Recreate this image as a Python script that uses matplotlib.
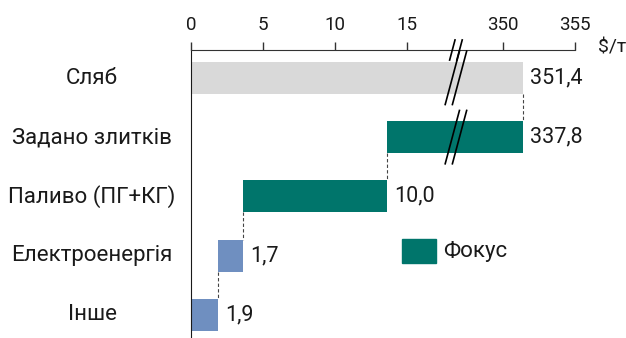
import matplotlib.pyplot as plt
from matplotlib.patches import Rectangle

plt.rcParams['font.family'] = ['Roboto', 'DejaVu Sans']

categories = ["Сляб", "Задано злитків", "Паливо (ПГ+КГ)", "Електроенергія", "Інше"]
starts = [0.0, 13.6, 3.6, 1.9, 0.0]
values = [351.4, 337.8, 10.0, 1.7, 1.9]
labels = ["351,4", "337,8", "10,0", "1,7", "1,9"]
colors = ["#d9d9d9", "#00756b", "#00756b", "#6f8fc0", "#6f8fc0"]
tick_values = [0, 5, 10, 15, 350, 355]
tick_labels = ["0", "5", "10", "15", "350", "355"]
legend_label = "Фокус"
unit = "$/т"

# broken axis: everything above the gap is shifted left by this amount
SHIFT = 350 - 21.67
GAP = 18.4


def tx(v):
    return v if v <= 15 else v - SHIFT


W, H = 626, 338
fig = plt.figure(figsize=(W / 100, H / 100), dpi=100)
ax = fig.add_axes([191 / W, 0, (575 - 191) / W, (H - 50) / H])

h = 0.54
for i, (s, v, c) in enumerate(zip(starts, values, colors)):
    left, right = tx(s), tx(s + v)
    ax.barh(i, right - left, left=left, height=h, color=c, zorder=2)
    ax.annotate(labels[i], (right, i), xytext=(5, 0), textcoords="offset points",
                va="center", ha="left", fontsize=15.5, color="#1a1a1a")

# dashed connectors at the shared edge of neighbouring bars
for i in range(len(values) - 1):
    x = tx(starts[i]) if i > 0 else tx(starts[0] + values[0])
    ax.plot([x, x], [i + h / 2, i + 1 - h / 2], ls=(0, (3, 2)), lw=0.8,
            color="#444444", zorder=1)

# break marks on the bars and on the axis
for yc, dy in [(0, 0.45), (1, 0.45), (-0.47, 0.17)]:
    for off in (-0.25, 0.25):
        dx = dy * 1.1
        ax.plot([GAP + off - dx, GAP + off + dx], [yc + dy, yc - dy],
                color="black", lw=1.2, clip_on=False, zorder=4)

ax.set_xlim(0, tx(355))
ax.set_ylim(4.39, -0.47)

ax.xaxis.tick_top()
ax.set_xticks([tx(v) for v in tick_values])
ax.set_xticklabels(tick_labels, fontsize=13.5, color="#1a1a1a")
ax.tick_params(axis="x", direction="out", length=6, width=1, pad=5.5, color="#333333")
ax.set_yticks(range(len(categories)))
ax.set_yticklabels([])
ax.tick_params(axis="y", length=0)
for i, name in enumerate(categories):
    fig.text(92 / W, 1 - (79 + 59 * i) / H, name, ha="center", va="center",
             fontsize=16, color="#1a1a1a")

for side in ("bottom", "right"):
    ax.spines[side].set_visible(False)
ax.spines["top"].set_color("#333333")
ax.spines["left"].set_color("#1a1a1a")

fig.text(598 / W, 1 - 47 / H, unit, ha="left", va="center", fontsize=14, color="#1a1a1a")

# legend
fig.patches.append(Rectangle((402 / W, 1 - 263 / H), 34 / W, 24 / H,
                             transform=fig.transFigure, color="#00756b"))
fig.text(443 / W, 1 - 251 / H, legend_label, ha="left", va="center",
         fontsize=16, color="#1a1a1a")

fig.savefig("out.png", dpi=100)
